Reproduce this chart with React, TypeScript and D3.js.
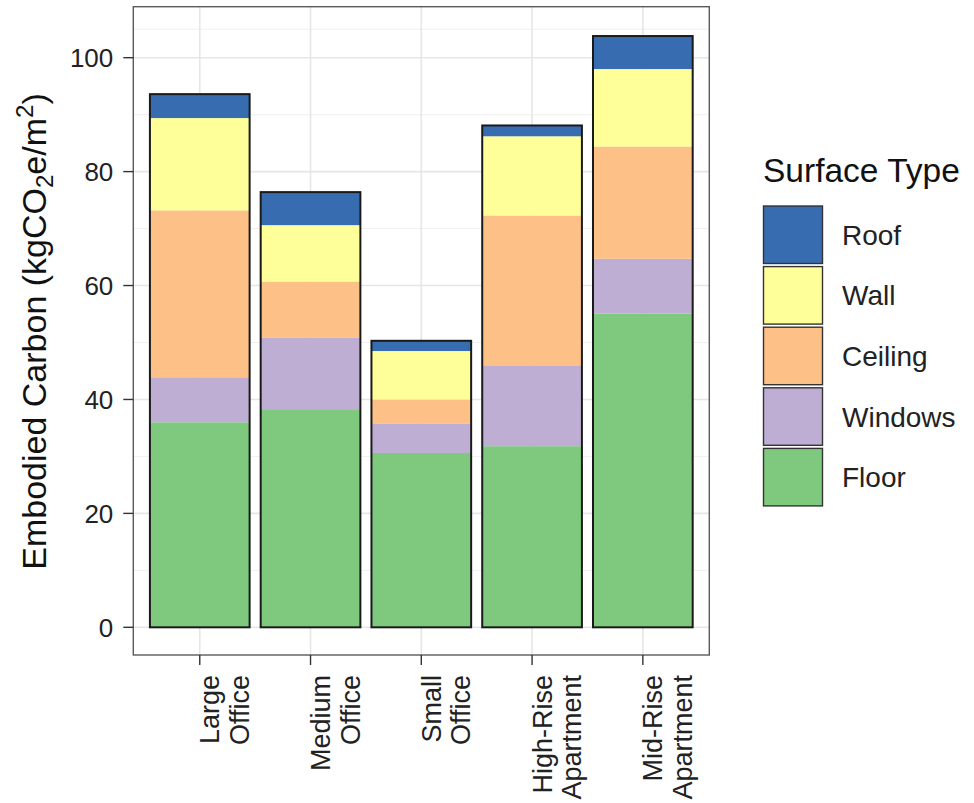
import React from "react";
import * as d3 from "d3";

const categories = ["Large Office", "Medium Office", "Small Office", "High-Rise Apartment", "Mid-Rise Apartment"];
const labelLines = [["Large", "Office"], ["Medium", "Office"], ["Small", "Office"], ["High-Rise", "Apartment"], ["Mid-Rise", "Apartment"]];
const seriesNames = ["Floor", "Windows", "Ceiling", "Wall", "Roof"];
const floorValues = [36.0, 38.3, 30.6, 31.8, 55.1];
const windowsValues = [7.9, 12.6, 5.2, 14.2, 9.6];
const ceilingValues = [29.3, 9.8, 4.2, 26.3, 19.7];
const wallValues = [16.2, 9.9, 8.5, 13.9, 13.6];
const roofValues = [4.2, 5.8, 1.8, 1.9, 5.8];
const colors = ["#7fc97f", "#beaed4", "#fdc086", "#ffff99", "#386cb0"];
const yTicks = [0, 20, 40, 60, 80, 100];
const yMinor = [10, 30, 50, 70, 90, 105];
const legendOrder = ["Roof", "Wall", "Ceiling", "Windows", "Floor"];

const FONT = "'Liberation Sans', Arial, Helvetica, sans-serif";

export default function App() {
  const W = 974, H = 803;
  const panel = { left: 133.3, right: 709.3, top: 6.7, bottom: 655 };
  const x = d3.scaleBand<string>().domain(categories).range([panel.left, panel.right]).paddingInner(0.1).paddingOuter(0.15);
  const y = d3.scaleLinear().domain([-4.86, 108.95]).range([panel.bottom, panel.top]);

  const rows = categories.map((c, i) => ({
    cat: c,
    Floor: floorValues[i],
    Windows: windowsValues[i],
    Ceiling: ceilingValues[i],
    Wall: wallValues[i],
    Roof: roofValues[i],
  }));
  const stacked = d3.stack<any>().keys(seriesNames)(rows);
  const color = d3.scaleOrdinal<string, string>().domain(seriesNames).range(colors);
  const totals = rows.map((r) => seriesNames.reduce((s, k) => s + (r as any)[k], 0));

  const minorLines = yMinor.filter((v) => y(v) > panel.top);

  return (
    <svg width={W} height={H} style={{ position: "absolute", left: 0, top: 0, background: "#fff" }} fontFamily={FONT}>
      <rect x={0} y={0} width={W} height={H} fill="#fff" />
      {/* grid */}
      {minorLines.map((v) => (
        <line key={"mn" + v} x1={panel.left} x2={panel.right} y1={y(v)} y2={y(v)} stroke="#f0f0f0" strokeWidth={1} />
      ))}
      {yTicks.map((v) => (
        <line key={"mj" + v} x1={panel.left} x2={panel.right} y1={y(v)} y2={y(v)} stroke="#e6e6e6" strokeWidth={1.6} />
      ))}
      {categories.map((c) => (
        <line key={"vg" + c} x1={x(c)! + x.bandwidth() / 2} x2={x(c)! + x.bandwidth() / 2} y1={panel.top} y2={panel.bottom} stroke="#e6e6e6" strokeWidth={1.6} />
      ))}
      {/* bars */}
      {stacked.map((s) => (
        <g key={s.key} fill={color(s.key)}>
          {s.map((d, i) => (
            <rect key={i} x={x(categories[i])!} width={x.bandwidth()} y={y(d[1])} height={y(d[0]) - y(d[1])} />
          ))}
        </g>
      ))}
      {categories.map((c, i) => (
        <rect key={"ol" + c} x={x(c)!} width={x.bandwidth()} y={y(totals[i])} height={y(0) - y(totals[i])} fill="none" stroke="#1a1a1a" strokeWidth={2} />
      ))}
      {/* panel border */}
      <rect x={panel.left} y={panel.top} width={panel.right - panel.left} height={panel.bottom - panel.top} fill="none" stroke="#5a5a5a" strokeWidth={1.4} />
      {/* y axis */}
      {yTicks.map((v) => (
        <g key={"yt" + v}>
          <line x1={panel.left - 10} x2={panel.left} y1={y(v)} y2={y(v)} stroke="#333" strokeWidth={1.4} />
          <text x={panel.left - 20} y={y(v) + 9.5} textAnchor="end" fontSize={26} fill="#222">{v}</text>
        </g>
      ))}
      {/* x axis */}
      {categories.map((c, i) => {
        const cx = x(c)! + x.bandwidth() / 2;
        return (
          <g key={"xt" + c}>
            <line x1={cx} x2={cx} y1={panel.bottom} y2={panel.bottom + 10} stroke="#333" strokeWidth={1.4} />
            <g transform={`translate(${cx},675) rotate(-90)`}>
              <text x={0} y={19.5} textAnchor="end" fontSize={27} fill="#222">{labelLines[i][0]}</text>
              <text x={0} y={49} textAnchor="end" fontSize={27} fill="#222">{labelLines[i][1]}</text>
            </g>
          </g>
        );
      })}
      {/* y title */}
      <g transform={`translate(46,331.5) rotate(-90)`}>
        <text x={0} y={0} textAnchor="middle" fontSize={34} fill="#111">
          Embodied Carbon (kgCO<tspan fontSize={24} dy={7}>2</tspan><tspan dy={-7}>e/m</tspan><tspan fontSize={24} dy={-13}>2</tspan><tspan dy={13}>)</tspan>
        </text>
      </g>
      {/* legend */}
      <text x={763} y={182} fontSize={33.5} fill="#111">Surface Type</text>
      {legendOrder.map((k, i) => {
        const ky = 206 + i * 60.6;
        return (
          <g key={"lg" + k}>
            <rect x={763.5} y={ky} width={59} height={57.5} fill={color(k)} stroke="#333" strokeWidth={1.4} />
            <text x={842} y={ky + 28.75 + 10} fontSize={28} fill="#222">{k}</text>
          </g>
        );
      })}
    </svg>
  );
}
